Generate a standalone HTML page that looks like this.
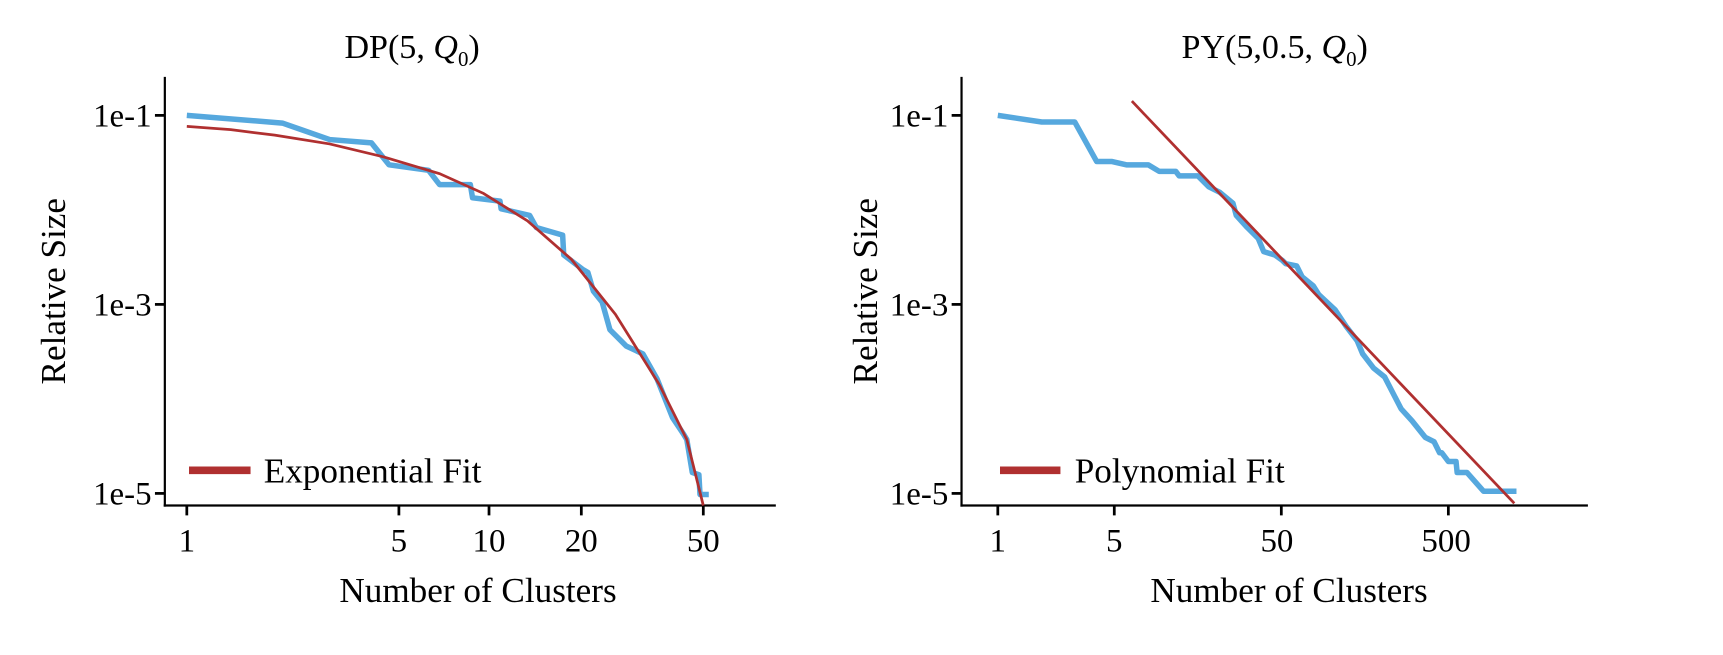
<!DOCTYPE html>
<html><head><meta charset="utf-8"><style>
html,body{margin:0;padding:0;background:#fff;}
svg text{font-family:"Liberation Serif",serif;fill:#000;}
</style></head><body>
<svg width="1723" height="650" viewBox="0 0 1723 650" xmlns="http://www.w3.org/2000/svg">
<rect width="1723" height="650" fill="#fff"/>
<g transform="scale(1.0989)">
<!-- Left panel -->
<text x="375" y="53" font-size="31" text-anchor="middle">DP(5, <tspan font-style="italic">Q</tspan><tspan font-size="19" dy="7">0</tspan><tspan dy="-7">)</tspan></text>
<line x1="150" y1="70" x2="150" y2="461" stroke="#000" stroke-width="2"/>
<line x1="149" y1="460" x2="706" y2="460" stroke="#000" stroke-width="2"/>
<g stroke="#000" stroke-width="2.5">
<line x1="141" y1="105" x2="150" y2="105"/><line x1="141" y1="277" x2="150" y2="277"/><line x1="141" y1="449" x2="150" y2="449"/>
<line x1="170" y1="460" x2="170" y2="469"/><line x1="363" y1="460" x2="363" y2="469"/><line x1="445" y1="460" x2="445" y2="469"/><line x1="529" y1="460" x2="529" y2="469"/><line x1="640" y1="460" x2="640" y2="469"/>
</g>
<g font-size="30" text-anchor="end">
<text x="138" y="115">1e-1</text><text x="138" y="287">1e-3</text><text x="138" y="459">1e-5</text>
</g>
<g font-size="30" text-anchor="middle">
<text x="170" y="502">1</text><text x="363" y="502">5</text><text x="445" y="502">10</text><text x="529" y="502">20</text><text x="640" y="502">50</text>
</g>
<text x="435" y="548" font-size="32" text-anchor="middle">Number of Clusters</text>
<text transform="translate(59,265) rotate(-90)" font-size="32" text-anchor="middle">Relative Size</text>
<polyline fill="none" stroke="#56a8de" stroke-width="5" stroke-linejoin="round" points="170,105 257,112 300,127 338,130 354,150 390,155 400,168 428,168 430,180 455,183 456,190 482,196 488,207 512,214 513,232 530,245 535,248 540,265 548,275 555,300 570,315 585,322 598,345 612,380 622,395 625,400 630,430 636,432 637,450 645,450"/>
<polyline fill="none" stroke="#b03030" stroke-width="2.5" points="170,115 210,118 250,123 300,131 350,143 400,158 440,176 480,201 520,236 560,286 600,350 625,400 640,460"/>
<line x1="172" y1="428" x2="228" y2="428" stroke="#b03030" stroke-width="7"/>
<text x="240" y="439" font-size="32">Exponential Fit</text>
<!-- Right panel -->
<text x="1160" y="53" font-size="31" text-anchor="middle">PY(5,0.5, <tspan font-style="italic">Q</tspan><tspan font-size="19" dy="7">0</tspan><tspan dy="-7">)</tspan></text>
<line x1="875" y1="70" x2="875" y2="461" stroke="#000" stroke-width="2"/>
<line x1="874" y1="460" x2="1445" y2="460" stroke="#000" stroke-width="2"/>
<g stroke="#000" stroke-width="2.5">
<line x1="866" y1="105" x2="875" y2="105"/><line x1="866" y1="277" x2="875" y2="277"/><line x1="866" y1="449" x2="875" y2="449"/>
<line x1="908" y1="460" x2="908" y2="469"/><line x1="1014" y1="460" x2="1014" y2="469"/><line x1="1166" y1="460" x2="1166" y2="469"/><line x1="1318" y1="460" x2="1318" y2="469"/>
</g>
<g font-size="30" text-anchor="end">
<text x="863" y="115">1e-1</text><text x="863" y="287">1e-3</text><text x="863" y="459">1e-5</text>
</g>
<g font-size="30" text-anchor="middle">
<text x="908" y="502">1</text><text x="1014" y="502">5</text><text x="1162" y="502">50</text><text x="1316" y="502">500</text>
</g>
<text x="1173" y="548" font-size="32" text-anchor="middle">Number of Clusters</text>
<text transform="translate(798,265) rotate(-90)" font-size="32" text-anchor="middle">Relative Size</text>
<polyline fill="none" stroke="#56a8de" stroke-width="5" stroke-linejoin="round" points="908,105 948,111 978,111 998,147 1012,147 1025,150 1045,150 1055,156 1070,156 1073,160 1090,160 1100,170 1110,175 1122,185 1125,196 1135,207 1145,217 1150,229 1160,232 1167,237 1170,240 1180,242 1185,252 1195,260 1200,268 1215,282 1225,297 1235,310 1240,322 1250,335 1260,343 1275,372 1285,383 1297,398 1305,402 1310,412 1312,412 1318,420 1325,420 1326,430 1335,430 1350,447 1380,447"/>
<line x1="1030" y1="92" x2="1378" y2="458" stroke="#b03030" stroke-width="2.5"/>
<line x1="910" y1="428" x2="965" y2="428" stroke="#b03030" stroke-width="7"/>
<text x="978" y="439" font-size="32">Polynomial Fit</text>
</g>
</svg>
</body></html>
